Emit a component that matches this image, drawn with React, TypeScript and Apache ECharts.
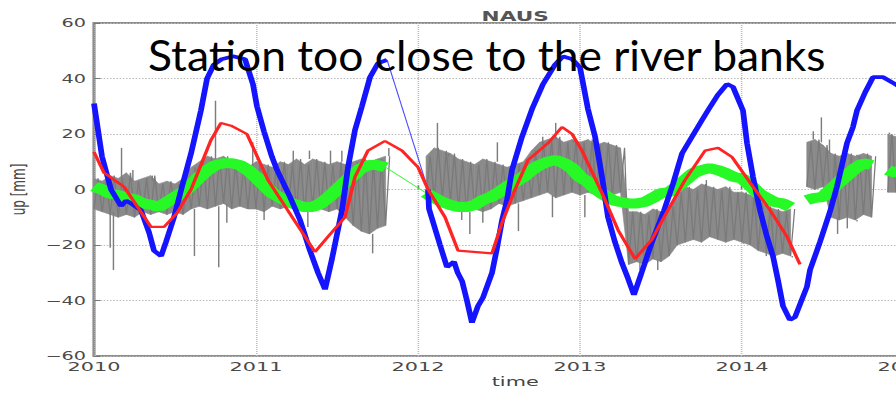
import React, { useEffect, useRef } from 'react';
import * as echarts from 'echarts';

// horizontal stretch of the original figure
const K = 1.6;
const CHART_W = 896 / K;

// x axis (decimal years)
const X_MIN = 2010;
const X_MAX = 2015.2;
const yTicks = { min: -60, max: 60, interval: 20 };

// gray daily series: envelope sampled every 0.05 yr from 2010.0
const GRAY_T0 = 2010;
const GRAY_STEP = 0.05;
const grayLow: (number | null)[] = [
  -7, -8, -9, -10, -9, -10, -8, -9, -8, -9,
  -8, -9, -7, -6, -7, -6, -5, -7, -6, -7,
  -7, -8, -6, -7, -6, -7, -8, -6, -7, -8,
  -7, -10, -13, -15, -16, -14, -13, null, null, null,
  null, -2, -3, -3, -4, -7, -8, -7, -8, -7,
  -5, -6, -5, -4, -3, -2, -1, -3, -2, -1,
  -2, -1, -2, -1, -2, -1, -27, -26, -27, -25,
  -26, -24, -20, -19, -18, -19, -17, -18, -19, -18,
  -19, -20, -22, -23, -24, -23, -24, null, 1, 0,
  1, -10, -11, -10, -11, -9, -10, null, -1, -1,
  0,
];
const grayHigh: (number | null)[] = [
  4, 3, 5, 4, 6, 3, 4, 5, 2, 3,
  2, 4, 8, 10, 12, 11, 12, 10, 9, 8,
  10, 9, 8, 10, 9, 11, 9, 11, 10, 9,
  10, 9, 10, 11, 10, 11, 12, null, null, null,
  null, 12, 15, 14, 13, 11, 10, 9, 11, 10,
  9, 8, 9, 10, 14, 17, 18, 19, 17, 18,
  17, 18, 16, 17, 16, 15, -8, -8, -9, -7,
  -8, -6, -1, 1, 0, 2, 1, 0, 1, -1,
  -1, -2, -4, -6, -7, -8, -7, null, 17, 18,
  16, 13, 12, 13, 12, 13, 12, null, 20, 19,
  20,
];
// isolated gray spikes: [year, from, to]
const graySpikes: [number, number, number][] = [
  [2010.10, -8, -21], [2010.12, -8, -29], [2010.17, 4, 15], [2010.24, 3, 7],
  [2010.36, 3, 5], [2010.62, -7, -24], [2010.75, 11, 32], [2010.77, -6, -28],
  [2010.82, -5, -12], [2010.98, 8, 17], [2011.05, -7, -11], [2011.23, 9, 14],
  [2011.33, 11, 14], [2011.32, -8, -13.5], [2011.46, 9, 14], [2011.53, 10, 14],
  [2011.72, -16, -23], [2011.82, 12, 15], [2012.12, 14, 24], [2012.19, 12, 13],
  [2012.27, -8, -11], [2012.32, -8, -16], [2012.40, -8, -12], [2012.49, 10, 17],
  [2012.62, -5, -15], [2012.77, 16, 19], [2012.85, 18, 24], [2012.83, -2, -10],
  [2012.96, 17, 18], [2013.03, -2, -10], [2013.37, -26, -29], [2013.48, -25, -29],
  [2013.78, 1, 3.4], [2014.01, -19, -19.5], [2014.15, -23, -24], [2014.31, -24, -24.5],
  [2014.44, 18, 21], [2014.49, 17, 26], [2014.54, 13, 18], [2014.59, -10, -16],
  [2014.65, -10, -14], [2014.71, 12, 12.5], [2014.71, -11, -11.5], [2014.91, 20, 20.5],
];

// green series, same 0.05 yr sampling
const greenUp: (number | null)[] = [
  1, 0, -1.5, -2, -3, -3.5, -5, -5.5, -6.3, -4.5,
  -2.7, -1, 1.6, 4.5, 7, 8.8, 9.5, 9.5, 8.8, 7,
  4.5, 1.6, -1.3, -3, -4.5, -5.6, -6.3, -6.3, -5, -2.7,
  0, 2.7, 5.2, 7.7, 8.8, 8.8, 8, null, null, null,
  null, -1.3, -3, -4.5, -5.6, -6.3, -6.3, -5.6, -3.8, -2.7,
  -1, 1, 2.7, 4.5, 7, 8.8, 10, 10.6, 9.5, 7.7,
  4.5, 2.7, 0, -2, -3.8, -4.5, -5, -5, -4.5, -3,
  -1.3, -1, 1, 3.4, 5.9, 7, 7.7, 7, 5.9, 4.5,
  4, 1.6, -1.3, -3, -4.5, -5, -6.3, null, -3.8, -3,
  -2.7, 0, 2.7, 5.2, 7.7, 9.5, 8.8, null, 7, 6,
  7,
];
const greenBridge: [number, number][] = [[2011.80, 8], [2012.05, -1.3]];

// blue series
const blueSeg1: [number, number][] = [
  [2010.000, 31], [2010.049, 12], [2010.105, 0], [2010.167, -6], [2010.198, -4],
  [2010.228, -5], [2010.290, -7.5], [2010.340, -15.5], [2010.370, -22], [2010.414, -24],
  [2010.444, -19], [2010.494, -10], [2010.543, 1], [2010.599, 13], [2010.660, 28.5],
  [2010.698, 40], [2010.740, 45], [2010.790, 47], [2010.858, 48], [2010.932, 47],
  [2010.981, 38], [2011.006, 30], [2011.049, 21], [2011.099, 11.7], [2011.130, 7],
  [2011.210, -2.7], [2011.272, -11], [2011.333, -22], [2011.383, -30], [2011.426, -36],
  [2011.469, -25], [2011.531, -7.4], [2011.568, 8], [2011.611, 21.4], [2011.654, 30],
  [2011.704, 40.5], [2011.753, 45.5], [2011.809, 46.7],
];
const blueSeg2: [number, number][] = [
  [2012.062, 0], [2012.068, -7], [2012.136, -20], [2012.179, -28], [2012.222, -26],
  [2012.245, -30], [2012.272, -33], [2012.302, -40], [2012.333, -48], [2012.370, -42],
  [2012.401, -39], [2012.457, -30], [2012.488, -21], [2012.519, -11], [2012.549, -4],
  [2012.580, 7], [2012.642, 19], [2012.704, 29], [2012.772, 38], [2012.846, 45],
  [2012.895, 48], [2012.951, 47], [2013.000, 44], [2013.049, 29], [2013.093, 19],
  [2013.136, 4.5], [2013.173, -10], [2013.216, -19], [2013.259, -26.5], [2013.296, -32],
  [2013.333, -38], [2013.380, -30], [2013.444, -19], [2013.519, -7.5], [2013.574, 2],
  [2013.630, 13], [2013.691, 19], [2013.753, 25], [2013.790, 28.5], [2013.850, 34],
  [2013.907, 38], [2013.944, 37], [2014.006, 28.5], [2014.031, 16.7], [2014.068, 4.5],
  [2014.111, -7.5], [2014.154, -17], [2014.191, -24], [2014.222, -32.6], [2014.253, -42],
  [2014.296, -47], [2014.327, -46], [2014.401, -35], [2014.420, -29], [2014.481, -19],
  [2014.543, -8], [2014.586, 1], [2014.648, 16.7], [2014.685, 22.5], [2014.710, 28.5],
  [2014.760, 35], [2014.809, 40.5], [2014.870, 40.5], [2014.944, 38], [2015.000, 36],
  [2015.200, 28],
];

// red series (vertices)
const redUp: [number, number][] = [
  [2010.000, 13.5], [2010.062, 6], [2010.185, 1], [2010.228, -2.7], [2010.352, -13.5],
  [2010.432, -13.5], [2010.512, -8.5], [2010.599, 0], [2010.722, 17.8], [2010.784, 24],
  [2010.846, 23], [2010.944, 20], [2011.074, 3.4], [2011.179, -6], [2011.364, -22.5],
  [2011.444, -17], [2011.549, -10], [2011.611, 4.5], [2011.691, 14], [2011.796, 17.5],
  [2011.901, 14], [2012.000, 8], [2012.062, 0], [2012.167, -10], [2012.247, -22],
  [2012.457, -23], [2012.519, -12], [2012.599, 0], [2012.679, 10.6], [2012.802, 16.7],
  [2012.889, 22.5], [2012.951, 20], [2013.012, 14], [2013.136, -1.3], [2013.235, -14.6],
  [2013.340, -25], [2013.444, -18], [2013.543, -7.4], [2013.648, 3.4], [2013.772, 14],
  [2013.852, 15], [2013.938, 11.7], [2014.068, 1], [2014.173, -7.4], [2014.278, -17],
  [2014.358, -27],
];

const titleText = 'NAUS';
const xName = 'time';
const yName = 'up [mm]';
const overlayText = 'Station too close to the river banks';

const tAt = (i: number) => +(GRAY_T0 + i * GRAY_STEP).toFixed(3);
const orDash = (v: number | null) => (v == null ? '-' : v);

function buildOption(): any {
  // band polygons between consecutive valid samples
  const bandData: number[][] = [];
  for (let i = 0; i + 1 < grayLow.length; i++) {
    const l0 = grayLow[i], h0 = grayHigh[i], l1 = grayLow[i + 1], h1 = grayHigh[i + 1];
    if (l0 == null || h0 == null || l1 == null || h1 == null) continue;
    bandData.push([tAt(i), l0, h0, tAt(i + 1), l1, h1]);
  }
  const zig: any[] = [];
  grayLow.forEach((l, i) => {
    const h = grayHigh[i];
    if (l == null || h == null) {
      zig.push([tAt(i), '-']);
    } else {
      zig.push([tAt(i), l]);
      zig.push([+(tAt(i) + GRAY_STEP / 2).toFixed(4), h]);
    }
  });
  const greenData = greenUp.map((v, i) => [tAt(i), orDash(v)]);
  const blueGap = [blueSeg1[blueSeg1.length - 1], blueSeg2[0]];

  const gridLeft = 94 / K;
  const gridW = ((X_MAX - X_MIN) * 162) / K;
  const centerX = 317;

  const tickFont = { fontFamily: 'DejaVu Sans', color: '#4a4a4a' };

  return {
    animation: false,
    backgroundColor: '#fff',
    title: [
      {
        text: titleText,
        left: centerX,
        top: 4,
        textAlign: 'center',
        textStyle: { fontFamily: 'DejaVu Sans', fontSize: 13.5, fontWeight: 'bold', color: '#555' },
      },
      {
        text: xName,
        left: centerX,
        top: 370,
        textAlign: 'center',
        textStyle: { fontFamily: 'DejaVu Sans', fontSize: 13, fontWeight: 'normal', color: '#444' },
      },
    ],
    grid: {
      left: gridLeft,
      top: 23,
      width: gridW,
      height: 333,
      outerBoundsMode: 'none',
      containLabel: false,
      show: true,
      borderColor: '#8e8e8e',
      borderWidth: 2,
      backgroundColor: 'transparent',
    },
    xAxis: {
      type: 'value',
      min: X_MIN,
      max: X_MAX,
      interval: 1,
      axisLine: { show: false },
      axisTick: { show: true, inside: true, length: 4, lineStyle: { color: '#777' } },
      axisLabel: {
        ...tickFont,
        fontSize: 13,
        margin: 4,
        formatter: (v: number) => (Math.abs(v - Math.round(v)) < 1e-6 ? String(Math.round(v)) : ''),
      },
      splitLine: { show: true, lineStyle: { type: 'dotted', color: '#bcbcbc', width: 1 } },
    },
    yAxis: {
      type: 'value',
      ...yTicks,
      name: yName,
      nameLocation: 'middle',
      nameGap: 37,
      nameTextStyle: { ...tickFont, fontSize: 12 },
      axisLine: { show: false },
      axisTick: { show: true, inside: true, length: 4, lineStyle: { color: '#777' } },
      axisLabel: {
        ...tickFont,
        fontSize: 12,
        margin: 5,
        formatter: (v: number) => (v < 0 ? '\u2212' + Math.abs(v) : String(v)),
      },
      splitLine: { show: true, lineStyle: { type: 'dotted', color: '#bcbcbc', width: 1 } },
    },
    graphic: [
      {
        type: 'text',
        x: 148 / K,
        y: 54,
        scaleX: 1.056 / K,
        z: 100,
        style: {
          text: overlayText,
          fontFamily: 'Lato',
          fontSize: 42,
          fill: '#000',
          textAlign: 'left',
          textVerticalAlign: 'middle',
        },
      },
    ],
    series: [
      {
        name: 'grayBand',
        type: 'custom',
        data: bandData,
        encode: { x: [0, 3], y: [1, 2, 4, 5] },
        silent: true,
        renderItem: (_p: any, api: any) => {
          const a = api.coord([api.value(0), api.value(1)]);
          const b = api.coord([api.value(3), api.value(4)]);
          const c = api.coord([api.value(3), api.value(5)]);
          const d = api.coord([api.value(0), api.value(2)]);
          return {
            type: 'polygon',
            shape: { points: [a, b, c, d] },
            style: { fill: '#8a8a8a', stroke: '#8a8a8a', lineWidth: 0.5 },
          };
        },
      },
      {
        name: 'grayNoise',
        type: 'line',
        data: zig,
        symbol: 'none',
        lineStyle: { color: '#7a7a7a', width: 0.8 },
        silent: true,
      },
      {
        name: 'graySpikes',
        type: 'custom',
        data: graySpikes,
        encode: { x: 0, y: [1, 2] },
        silent: true,
        renderItem: (_p: any, api: any) => {
          const a = api.coord([api.value(0), api.value(1)]);
          const b = api.coord([api.value(0), api.value(2)]);
          return {
            type: 'line',
            shape: { x1: a[0], y1: a[1], x2: b[0], y2: b[1] },
            style: { stroke: '#7d7d7d', lineWidth: 0.9 },
          };
        },
      },
      {
        name: 'green',
        type: 'line',
        data: greenData,
        symbol: 'none',
        lineStyle: { color: '#26f926', width: 10 },
        silent: true,
      },
      {
        name: 'greenBridge',
        type: 'line',
        data: greenBridge,
        symbol: 'none',
        lineStyle: { color: '#26f926', width: 0.7 },
        silent: true,
      },
      {
        name: 'blue1',
        type: 'line',
        data: blueSeg1,
        symbol: 'none',
        lineStyle: { color: '#1414ff', width: 3.6 },
        silent: true,
      },
      {
        name: 'blueGap',
        type: 'line',
        data: blueGap,
        symbol: 'none',
        lineStyle: { color: '#4a4aff', width: 0.7 },
        silent: true,
      },
      {
        name: 'blue2',
        type: 'line',
        data: blueSeg2,
        symbol: 'none',
        lineStyle: { color: '#1414ff', width: 3.6 },
        silent: true,
      },
      {
        name: 'red',
        type: 'line',
        data: redUp,
        symbol: 'none',
        lineStyle: { color: '#ff2424', width: 2.2 },
        silent: true,
      },
    ],
  };
}

export default function App() {
  const ref = useRef<HTMLDivElement>(null);
  useEffect(() => {
    if (!ref.current) return;
    const chart = echarts.init(ref.current, null, { renderer: 'svg' });
    chart.setOption(buildOption());
    return () => chart.dispose();
  }, []);
  return (
    <div
      style={{
        position: 'fixed',
        left: 0,
        top: 0,
        width: 896,
        height: 397,
        overflow: 'hidden',
        background: '#fff',
      }}
    >
      <div
        ref={ref}
        style={{ width: CHART_W, height: 397, transform: `scaleX(${K})`, transformOrigin: '0 0' }}
      />
    </div>
  );
}
